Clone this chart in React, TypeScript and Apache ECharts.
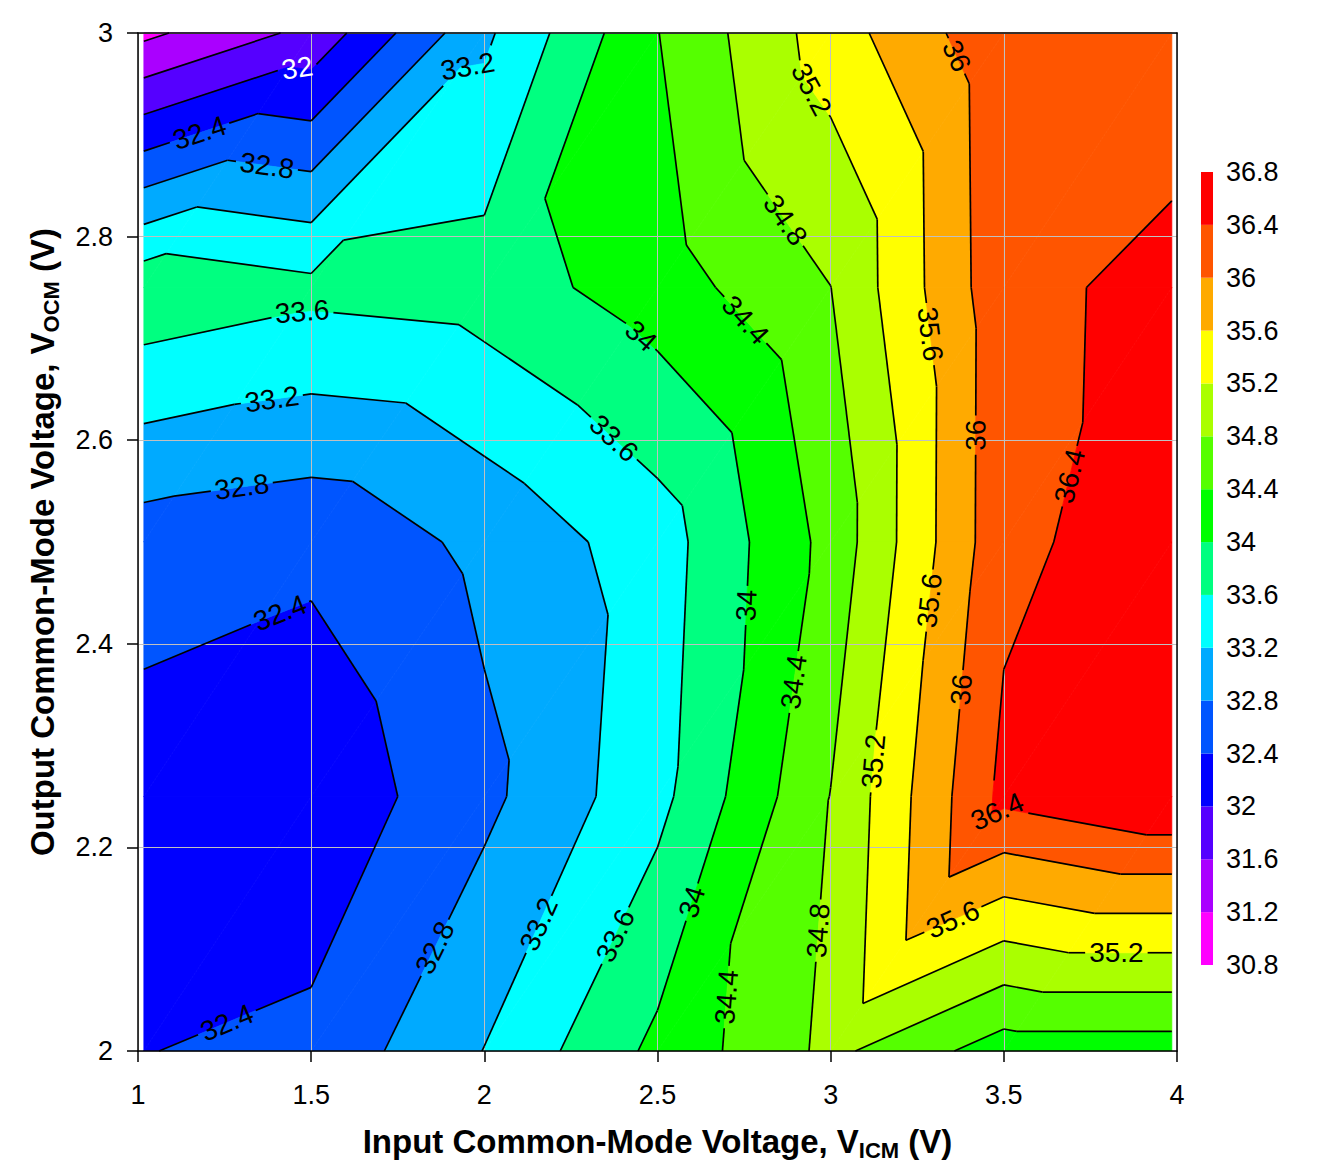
import React, { useEffect, useRef } from "react";
import * as echarts from "echarts";

// ---- grid of measured values (x nodes, y nodes, one array per row of y) ----
const xNodes = [1.017, 1.5, 2, 2.5, 3, 3.5, 3.985];
const yNodes = [2, 2.25, 2.5, 2.75, 3];
const vAtY200 = [32.39, 32.5, 33.21, 34.1, 34.9, 34.2, 34.2];
const vAtY225 = [32.2, 32.1, 32.7, 33.475, 34.81, 36.51, 36.79];
const vAtY250 = [32.6, 32.49, 32.9, 33.4, 34.53, 36.29, 36.66];
const vAtY275 = [33.89, 33.71, 33.79, 34.2, 34.796, 36.28, 36.524];
const vAtY300 = [31.11, 31.71, 33.12, 34.39, 35.4, 36.3, 36.16];
const gridValues = [vAtY200, vAtY225, vAtY250, vAtY275, vAtY300];

// ---- contour levels and band colours ----
const levels = [30.8, 31.2, 31.6, 32, 32.4, 32.8, 33.2, 33.6, 34, 34.4, 34.8, 35.2, 35.6, 36, 36.4, 36.8];
const bandColors = [
  "#FF00FF", "#AA00FF", "#5500FF", "#0000FF", "#0055FF", "#00AAFF", "#00FFFF", "#00FF80",
  "#00FF00", "#55FF00", "#AAFF00", "#FFFF00", "#FFAA00", "#FF5500", "#FF0000",
];

// ---- contour label anchors (level, x, y) ----
const labelLevels = [32, 33.2, 32.4, 32.8, 33.6, 33.2, 32.8, 32.4, 32.4, 32.8, 33.2, 33.6, 34, 34.4, 34.8, 34, 34.4, 33.6, 34, 34.4, 34.8, 35.2, 36, 35.6, 36, 36.4, 35.6, 36, 35.2, 36.4, 35.6, 35.2];
const labelX = [1.459, 1.955, 1.179, 1.372, 1.473, 1.387, 1.3, 1.415, 1.254, 1.86, 2.16, 2.362, 2.593, 2.699, 2.973, 2.763, 2.89, 2.37, 2.448, 2.751, 2.864, 2.942, 3.351, 3.273, 3.406, 3.698, 3.285, 3.377, 3.126, 3.481, 3.351, 3.825];
const labelY = [2.964, 2.961, 2.9006, 2.869, 2.729, 2.639, 2.5536, 2.426, 2.03, 2.101, 2.124, 2.116, 2.147, 2.053, 2.118, 2.4376, 2.3626, 2.6004, 2.7008, 2.7173, 2.815, 2.944, 2.9756, 2.7037, 2.605, 2.564, 2.4425, 2.355, 2.2846, 2.235, 2.1306, 2.0984];

const FONT = '"Liberation Sans", Arial, Helvetica, sans-serif';
const LABEL_FS = 28;

// triangles (x,y,v)*3 built from the grid, diagonal lower-left to upper-right
const triangles: number[][] = [];
for (let j = 0; j < yNodes.length - 1; j++) {
  for (let i = 0; i < xNodes.length - 1; i++) {
    const p00 = [xNodes[i], yNodes[j], gridValues[j][i]];
    const p10 = [xNodes[i + 1], yNodes[j], gridValues[j][i + 1]];
    const p01 = [xNodes[i], yNodes[j + 1], gridValues[j + 1][i]];
    const p11 = [xNodes[i + 1], yNodes[j + 1], gridValues[j + 1][i + 1]];
    triangles.push([...p00, ...p10, ...p11]);
    triangles.push([...p00, ...p11, ...p01]);
  }
}

type P3 = number[];
function clip(poly: P3[], L: number, keepAbove: boolean): P3[] {
  const out: P3[] = [];
  const inside = (p: P3) => (keepAbove ? p[2] >= L : p[2] <= L);
  for (let k = 0; k < poly.length; k++) {
    const a = poly[k];
    const b = poly[(k + 1) % poly.length];
    const ai = inside(a);
    const bi = inside(b);
    if (ai) out.push(a);
    if (ai !== bi) {
      const t = (L - a[2]) / (b[2] - a[2]);
      out.push([a[0] + t * (b[0] - a[0]), a[1] + t * (b[1] - a[1]), L]);
    }
  }
  return out;
}

function triSeg(t: number[], L: number): number[][] | null {
  const pts: number[][] = [];
  for (let k = 0; k < 3; k++) {
    const a = k * 3;
    const b = ((k + 1) % 3) * 3;
    const va = t[a + 2];
    const vb = t[b + 2];
    if ((va < L) !== (vb < L)) {
      const f = (L - va) / (vb - va);
      pts.push([t[a] + f * (t[b] - t[a]), t[a + 1] + f * (t[b + 1] - t[a + 1])]);
    }
  }
  return pts.length === 2 ? pts : null;
}

function fmt(L: number) {
  return String(Math.round(L * 10) / 10);
}
function textWidth(s: string, fs: number) {
  let w = 0;
  for (const ch of s) w += ch === "." ? 0.278 : 0.556;
  return w * fs;
}
function circleHits(p: number[], q: number[], c: number[], r: number): number[] | null {
  const dx = q[0] - p[0];
  const dy = q[1] - p[1];
  const fx = p[0] - c[0];
  const fy = p[1] - c[1];
  const A = dx * dx + dy * dy;
  const B = 2 * (fx * dx + fy * dy);
  const C = fx * fx + fy * fy - r * r;
  const disc = B * B - 4 * A * C;
  if (A === 0 || disc <= 0) return null;
  const s = Math.sqrt(disc);
  return [(-B - s) / (2 * A), (-B + s) / (2 * A)];
}
function normAngle(dx: number, dy: number) {
  let a = (Math.atan2(-dy, dx) * 180) / Math.PI;
  while (a > 95) a -= 180;
  while (a <= -85) a += 180;
  return a;
}

type Lab = { x: number; y: number; rot: number; text: string; r: number; level: number };
function placeLabels(api: any): Lab[] {
  return labelLevels.map((L, k) => {
    const c0 = api.coord([labelX[k], labelY[k]]);
    const segs: number[][][] = [];
    for (const t of triangles) {
      const s = triSeg(t, L);
      if (s) segs.push([api.coord(s[0]), api.coord(s[1])]);
    }
    let center = c0;
    let bd = Infinity;
    let dir = [1, 0];
    for (const [p, q] of segs) {
      const dx = q[0] - p[0];
      const dy = q[1] - p[1];
      const A = dx * dx + dy * dy;
      if (!A) continue;
      let u = ((c0[0] - p[0]) * dx + (c0[1] - p[1]) * dy) / A;
      u = Math.max(0, Math.min(1, u));
      const x = p[0] + u * dx;
      const y = p[1] + u * dy;
      const d = (x - c0[0]) ** 2 + (y - c0[1]) ** 2;
      if (d < bd) {
        bd = d;
        center = [x, y];
        dir = [dx, dy];
      }
    }
    const text = fmt(L);
    const r = textWidth(text, LABEL_FS) / 2 + 4;
    const segAngle = normAngle(dir[0], dir[1]);
    let angle = segAngle;
    const hits: number[][] = [];
    for (const [p, q] of segs) {
      const h = circleHits(p, q, center, r);
      if (!h) continue;
      for (const u of h) if (u >= 0 && u <= 1) hits.push([p[0] + u * (q[0] - p[0]), p[1] + u * (q[1] - p[1])]);
    }
    if (hits.length >= 2) {
      let m = -1;
      let cd = dir;
      for (let i = 0; i < hits.length; i++)
        for (let j = i + 1; j < hits.length; j++) {
          const d = (hits[j][0] - hits[i][0]) ** 2 + (hits[j][1] - hits[i][1]) ** 2;
          if (d > m) {
            m = d;
            cd = [hits[j][0] - hits[i][0], hits[j][1] - hits[i][1]];
          }
        }
      const chordAngle = normAngle(cd[0], cd[1]);
      let diff = Math.abs(chordAngle - segAngle) % 180;
      if (diff > 90) diff = 180 - diff;
      if (diff <= 30) angle = chordAngle;
    }
    return { x: center[0], y: center[1], rot: (angle * Math.PI) / 180, text, r, level: L };
  });
}

export default function App() {
  const ref = useRef<HTMLDivElement>(null);
  useEffect(() => {
    if (!ref.current) return;
    const chart = echarts.init(ref.current, null, { renderer: "svg" });
    let labelCache: Lab[] | null = null;
    const getLabels = (api: any) => {
      if (!labelCache) labelCache = placeLabels(api);
      return labelCache;
    };

    const axisText = { fontSize: 27, color: "#000", fontFamily: FONT };
    const titleRich = {
      a: { fontSize: 33, fontWeight: "bold", fontFamily: FONT, color: "#000", lineHeight: 40 },
      s: { fontSize: 22, fontWeight: "bold", fontFamily: FONT, color: "#000", lineHeight: 22, verticalAlign: "bottom" },
    };
    const frameLine = { show: true, onZero: false, lineStyle: { color: "#000", width: 1.5 } };

    const option: any = {
      animation: false,
      backgroundColor: "#fff",
      grid: [
        { left: 138, top: 33, width: 1039, height: 1026 },
        { left: 1201, top: 172, width: 12, height: 793 },
      ],
      xAxis: [
        {
          gridIndex: 0, type: "value", min: 1, max: 4, interval: 0.5, z: 5,
          axisLine: frameLine,
          axisTick: { show: true, length: 11, lineStyle: { color: "#000", width: 1.5 } },
          axisLabel: { ...axisText, margin: 30 },
          splitLine: { show: true, lineStyle: { color: "#C0C0C0", width: 1 } },
          name: "{a|Input Common-Mode Voltage, V}{s|ICM}{a| (V)}",
          nameLocation: "middle", nameGap: 70,
          nameTextStyle: { rich: titleRich },
        },
        {
          gridIndex: 0, type: "value", min: 1, max: 4, position: "top", z: 5,
          axisLine: frameLine,
          axisTick: { show: false }, axisLabel: { show: false }, splitLine: { show: false },
        },
        { gridIndex: 1, type: "value", min: 0, max: 1, show: false },
      ],
      yAxis: [
        {
          gridIndex: 0, type: "value", min: 2, max: 3, interval: 0.2, z: 5,
          axisLine: frameLine,
          axisTick: { show: true, length: 11, lineStyle: { color: "#000", width: 1.5 } },
          axisLabel: { ...axisText, margin: 25 },
          splitLine: { show: true, lineStyle: { color: "#C0C0C0", width: 1 } },
          name: "{a|Output Common-Mode Voltage, V}{s|OCM}{a| (V)}",
          nameLocation: "middle", nameGap: 76, nameRotate: 90,
          nameTextStyle: { rich: titleRich },
        },
        {
          gridIndex: 0, type: "value", min: 2, max: 3, position: "right", z: 5,
          axisLine: frameLine,
          axisTick: { show: false }, axisLabel: { show: false }, splitLine: { show: false },
        },
        {
          gridIndex: 1, type: "value", min: 30.8, max: 36.8, interval: 0.4, position: "right",
          axisLine: { show: false }, axisTick: { show: false }, splitLine: { show: false },
          axisLabel: { ...axisText, margin: 13 },
        },
      ],
      series: [
        {
          type: "custom", name: "fill", xAxisIndex: 0, yAxisIndex: 0, z: 1, silent: true,
          data: triangles,
          renderItem: (params: any, api: any) => {
            const tri: P3[] = [
              [api.value(0), api.value(1), api.value(2)],
              [api.value(3), api.value(4), api.value(5)],
              [api.value(6), api.value(7), api.value(8)],
            ];
            const children: any[] = [];
            for (let b = 0; b < bandColors.length; b++) {
              let poly = clip(tri, levels[b], true);
              if (poly.length < 3) continue;
              poly = clip(poly, levels[b + 1], false);
              if (poly.length < 3) continue;
              const pts = poly.map((p) => api.coord([p[0], p[1]]));
              children.push({
                type: "polygon",
                shape: { points: pts },
                style: { fill: bandColors[b], stroke: bandColors[b], lineWidth: 0.8 },
              });
            }
            return { type: "group", children };
          },
        },
        {
          type: "custom", name: "lines", xAxisIndex: 0, yAxisIndex: 0, z: 6, silent: true,
          data: triangles,
          renderItem: (params: any, api: any) => {
            const labs = getLabels(api);
            const t = [0, 1, 2, 3, 4, 5, 6, 7, 8].map((k) => api.value(k));
            const children: any[] = [];
            for (let li = 1; li < levels.length - 1; li++) {
              const L = levels[li];
              const s = triSeg(t, L);
              if (!s) continue;
              const p = api.coord(s[0]);
              const q = api.coord(s[1]);
              let pieces: number[][] = [[0, 1]];
              for (const lab of labs) {
                if (Math.abs(lab.level - L) > 1e-6) continue;
                const h = circleHits(p, q, [lab.x, lab.y], lab.r);
                if (!h) continue;
                const next: number[][] = [];
                for (const [u0, u1] of pieces) {
                  if (h[1] <= u0 || h[0] >= u1) { next.push([u0, u1]); continue; }
                  if (h[0] > u0) next.push([u0, h[0]]);
                  if (h[1] < u1) next.push([h[1], u1]);
                }
                pieces = next;
              }
              for (const [u0, u1] of pieces) {
                if (u1 - u0 < 1e-4) continue;
                children.push({
                  type: "line",
                  shape: {
                    x1: p[0] + u0 * (q[0] - p[0]), y1: p[1] + u0 * (q[1] - p[1]),
                    x2: p[0] + u1 * (q[0] - p[0]), y2: p[1] + u1 * (q[1] - p[1]),
                  },
                  style: { stroke: "#000", lineWidth: 1.7 },
                });
              }
            }
            return { type: "group", children };
          },
        },
        {
          type: "custom", name: "labels", xAxisIndex: 0, yAxisIndex: 0, z: 7, silent: true,
          data: labelLevels.map((L, k) => [labelX[k], labelY[k], L]),
          renderItem: (params: any, api: any) => {
            const lab = getLabels(api)[params.dataIndex];
            return {
              type: "text",
              x: lab.x,
              y: lab.y,
              rotation: lab.rot,
              style: {
                text: lab.text,
                fill: lab.level <= 32 ? "#fff" : "#000",
                fontSize: LABEL_FS,
                fontFamily: FONT,
                align: "center",
                verticalAlign: "middle",
              },
            };
          },
        },
        {
          type: "custom", name: "colorbar", xAxisIndex: 2, yAxisIndex: 2, silent: true,
          data: bandColors.map((c, b) => [levels[b], levels[b + 1]]),
          renderItem: (params: any, api: any) => {
            const p0 = api.coord([0, api.value(0)]);
            const p1 = api.coord([1, api.value(1)]);
            return {
              type: "rect",
              shape: { x: p0[0], y: p1[1], width: p1[0] - p0[0], height: p0[1] - p1[1] },
              style: { fill: bandColors[params.dataIndex] },
            };
          },
        },
      ],
    };
    chart.setOption(option);
    return () => chart.dispose();
  }, []);
  return (
    <div
      ref={ref}
      style={{ position: "absolute", left: 0, top: 0, width: 1328, height: 1166, background: "#fff" }}
    />
  );
}
